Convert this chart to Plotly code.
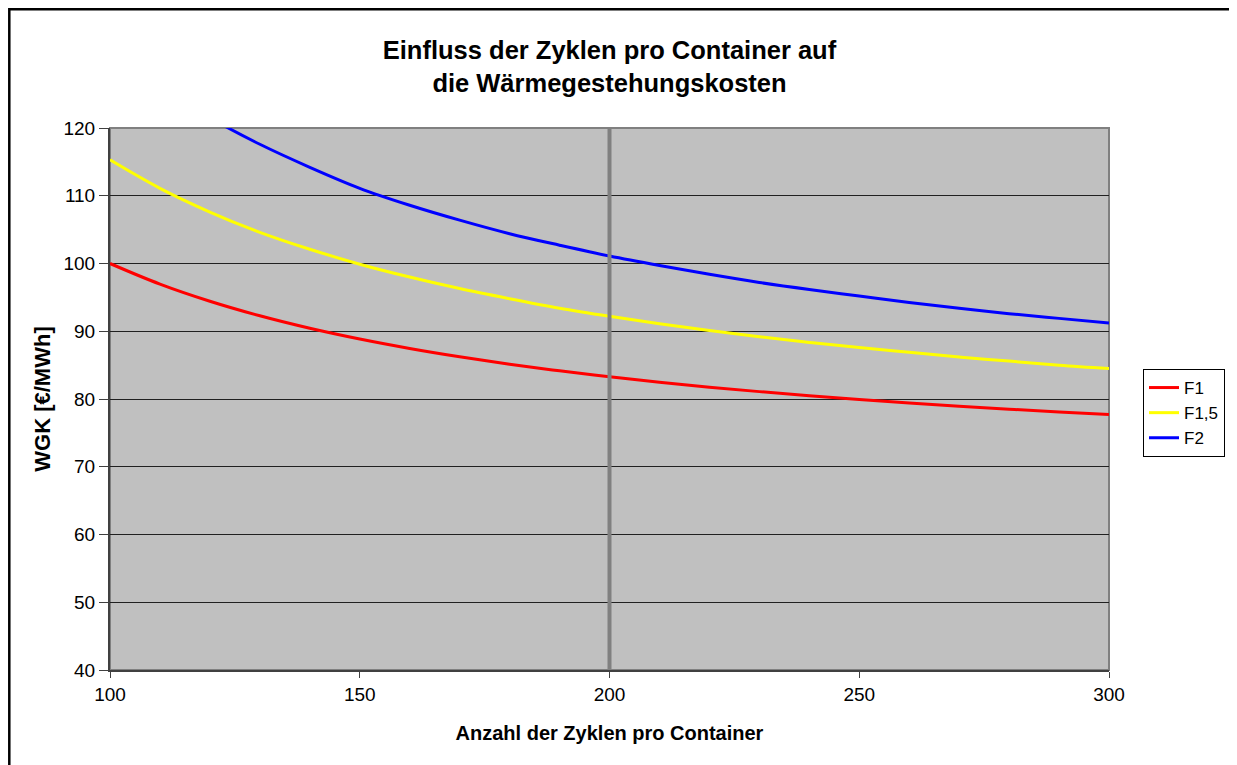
import plotly.graph_objects as go

zyklen = [100, 110, 120, 130, 140, 150, 160, 170, 180, 190, 200,
          210, 220, 230, 240, 250, 260, 270, 280, 290, 300]
f1 = [100.0, 96.96, 94.43, 92.28, 90.44, 88.85, 87.46, 86.23, 85.13, 84.16, 83.28,
      82.48, 81.75, 81.09, 80.49, 79.93, 79.42, 78.94, 78.50, 78.08, 77.70]
f15 = [115.3, 111.1, 107.6, 104.6, 102.1, 99.9, 98.0, 96.3, 94.8, 93.4, 92.2,
       91.1, 90.1, 89.2, 88.35, 87.6, 86.9, 86.2, 85.6, 85.0, 84.5]
f2 = [131.5, 126.0, 121.5, 117.6, 114.2, 111.1, 108.6, 106.4, 104.4, 102.7, 101.1,
      99.7, 98.4, 97.2, 96.15, 95.2, 94.25, 93.4, 92.6, 91.9, 91.2]
series_names = ["F1", "F1,5", "F2"]
series_colors = ["#FF0000", "#FFFF00", "#0000FF"]
marker_x = 200

font = "Liberation Sans, Arial, sans-serif"

W, H = 1229, 757
L, T, PW, PH = 102, 120, 999, 542  # plot area in figure pixels (page offset 8)


def px(x):
    return (x - 8 - L) / PW


def py(y):
    return (T + PH - (y - 8)) / PH


fig = go.Figure()
for name, vals, col in zip(series_names, [f1, f15, f2], series_colors):
    fig.add_trace(go.Scatter(x=zyklen, y=vals, mode="lines", name=name,
                             line=dict(color=col, width=3, shape="spline")))

fig.add_shape(type="line", x0=marker_x, x1=marker_x, y0=40, y1=120, xref="x", yref="y",
              line=dict(color="#808080", width=4), layer="above")

# plot border (top/right gray)
fig.add_shape(type="rect", x0=0, x1=1, y0=0, y1=1, xref="paper", yref="paper",
              line=dict(color="#808080", width=2), layer="below")

# outer chart frame
fig.add_shape(type="rect", x0=px(9.3), x1=px(1235), y0=py(775), y1=py(9.3),
              xref="paper", yref="paper", line=dict(color="black", width=2.5))

fig.update_layout(
    width=W, height=H,
    margin=dict(l=L, r=W - L - PW, t=T, b=H - T - PH),
    paper_bgcolor="white", plot_bgcolor="#C0C0C0",
    font=dict(family=font, size=19, color="black"),
    title=dict(text="<b>Einfluss der Zyklen pro Container auf<br>die Wärmegestehungskosten</b>",
               x=0.5, xref="paper", xanchor="center", y=1 - 51 / H, yanchor="middle",
               font=dict(size=25.5, family=font)),
    showlegend=True,
    legend=dict(x=px(1143), y=py(369), xanchor="left", yanchor="top",
                bordercolor="black", borderwidth=1, bgcolor="white",
                font=dict(size=17, family=font), tracegroupgap=0, itemwidth=30),
    xaxis=dict(range=[100, 300], tickvals=[100, 150, 200, 250, 300], showgrid=False,
               ticks="outside", ticklen=6, tickcolor="#404040", showline=True,
               linecolor="#404040", linewidth=2, zeroline=False,
               title=dict(text="<b>Anzahl der Zyklen pro Container</b>", font=dict(size=20), standoff=22)),
    yaxis=dict(range=[40, 120], dtick=10, showgrid=True, gridcolor="#202020", gridwidth=1,
               ticks="outside", ticklen=9, tickcolor="#404040", showline=True,
               linecolor="#404040", linewidth=2, zeroline=False,
               title=dict(text="<b>WGK [€/MWh]</b>", font=dict(size=22), standoff=7)),
)

fig.write_html("out.html")
